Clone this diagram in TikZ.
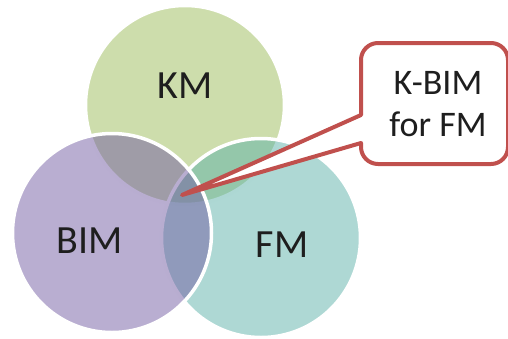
\documentclass[tikz,border=0pt]{standalone}
\usepackage{fontspec}
\setmainfont{Carlito}
\usetikzlibrary{positioning}
\definecolor{kmgreen}{RGB}{155,187,89}
\definecolor{bimpurple}{RGB}{115,93,163}
\definecolor{fmteal}{RGB}{93,177,169}
\definecolor{calloutred}{RGB}{192,80,77}
\definecolor{txtdark}{RGB}{30,30,30}
\tikzset{
  set/.style ={circle, draw=white, line width=3.5pt, fill opacity=0.5, draw opacity=1,
               minimum size=199pt, inner sep=0pt},
  lbl/.style ={font=\fontsize{40}{48}\selectfont, text=txtdark, inner sep=0pt},
  note/.style={align=center, font=\fontsize{36}{42}\selectfont, text=txtdark, inner sep=0pt},
  callout/.style={draw=calloutred, fill=white, line width=4pt, line join=round},
}
\begin{document}
\begin{tikzpicture}[x=1pt,y=-1pt]
\useasboundingbox (0,0) rectangle (508,338);
% --- sets ---
\node[set, fill=kmgreen]   (km)  at (185,105) {};
\node[set, fill=fmteal]    (fm)  at (261,238) {};
\node[set, fill=bimpurple] (bim) at (112,233) {};
% --- set names ---
\node[lbl] (kmname)  at (185,86)  {KM};
\node[lbl] (bimname) at (90,241)  {BIM};
\node[lbl] (fmname)  at (282,245) {FM};
% --- callout ---
\coordinate (tip) at (182,195);
\draw[callout] (tip) -- (361,115) [rounded corners=17pt] -- (361,43) -- (508,43) -- (508,164)
  -- (361,164) [sharp corners] -- (361,143) -- cycle;
\node[note] (kbim) at (438,104) {K-BIM\\for FM};
\end{tikzpicture}
\end{document}
